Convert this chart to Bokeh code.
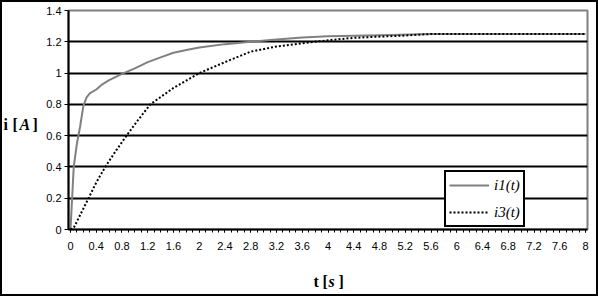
from bokeh.plotting import figure
from bokeh.models import (FixedTicker, Legend, LegendItem, Label, Range1d)
from bokeh.layouts import column, row
from bokeh.embed import file_html
from bokeh.resources import INLINE

# ---- data ----
t1 = [0, 0.05, 0.1, 0.15, 0.2, 0.25, 0.3, 0.4, 0.5, 0.6, 0.8, 1.0, 1.2, 1.4, 1.6, 1.8,
      2.0, 2.4, 2.8, 3.2, 3.6, 4.0, 4.8, 5.6, 6.4, 7.2, 8.0]
i1 = [0, 0.40, 0.55, 0.66, 0.79, 0.845, 0.87, 0.895, 0.93, 0.955, 0.995, 1.03, 1.07,
      1.10, 1.13, 1.148, 1.163, 1.185, 1.2, 1.215, 1.228, 1.235, 1.242, 1.25, 1.25,
      1.25, 1.25]

t3 = [0, 0.05, 0.28, 0.4, 0.54, 0.7, 0.87, 1.05, 1.24, 1.6, 2.0, 2.4, 2.8, 3.2, 3.6,
      4.0, 4.4, 4.8, 5.2, 5.6, 6.4, 7.2, 8.0]
i3 = [0, 0.01, 0.2, 0.3, 0.4, 0.5, 0.6, 0.7, 0.8, 0.905, 1.0, 1.07, 1.137, 1.17, 1.19,
      1.21, 1.225, 1.233, 1.24, 1.25, 1.25, 1.25, 1.25]

x_ticks = [round(0.4 * k, 1) for k in range(21)]
x_minor = [round(0.1 * k, 1) for k in range(81)]
x_labels = ["0", "0.4", "0.8", "1.2", "1.6", "2", "2.4", "2.8", "3.2", "3.6", "4",
            "4.4", "4.8", "5.2", "5.6", "6", "6.4", "6.8", "7.2", "7.6", "8"]
y_ticks = [0, 0.2, 0.4, 0.6, 0.8, 1.0, 1.2, 1.4]
y_labels = ["0", "0.2", "0.4", "0.6", "0.8", "1", "1.2", "1.4"]
series_names = ["i1(t)", "i3(t)"]
y_title = [("i", "bold"), ("[", "bold"), ("A", "bold italic"), ("]", "bold")]
x_title = [("t", "bold"), ("[", "bold"), ("s", "bold italic"), ("]", "bold")]

B = 2                    # outer border width
IW, IH = 598 - 2 * B, 296 - 2 * B
LW = 40                  # left title strip
BH = 36                  # bottom title strip
MW, MH = IW - LW, IH - BH

# ---- main chart ----
p = figure(width=MW, height=MH, output_backend="svg", toolbar_location=None,
           x_range=Range1d(-0.031, 8.031), y_range=Range1d(0, 1.4),
           min_border_left=68 - B - LW, min_border_right=IW + B - 587,
           min_border_top=10 - B, min_border_bottom=MH + B - 229)
p.background_fill_color = "white"
p.border_fill_color = "white"
p.outline_line_color = "#808080"
p.outline_line_width = 2

r1 = p.line(t1, i1, line_color="#808080", line_width=2)
r3 = p.line(t3, i3, line_color="black", line_width=2, line_dash="2 2")

p.xaxis.ticker = FixedTicker(ticks=x_ticks, minor_ticks=x_minor)
p.xaxis.major_label_overrides = {v: s for v, s in zip(x_ticks, x_labels)}
p.yaxis.ticker = FixedTicker(ticks=y_ticks, minor_ticks=[])
p.yaxis.major_label_overrides = {v: s for v, s in zip(y_ticks, y_labels)}
for ax in (p.xaxis[0], p.yaxis[0]):
    ax.axis_line_color = "black"
    ax.axis_line_width = 2
    ax.major_tick_line_color = "black"
    ax.major_tick_line_width = 1
    ax.minor_tick_line_color = "black"
    ax.major_tick_in = 0
    ax.minor_tick_in = 0
    ax.major_label_text_font = "Liberation Sans"
    ax.major_label_text_font_size = "11px"
    ax.major_label_text_color = "black"
p.xaxis.major_tick_out = 3
p.xaxis.minor_tick_out = 3
p.xaxis.major_label_standoff = 9
p.yaxis.major_tick_out = 4
p.yaxis.minor_tick_out = 0
p.yaxis.major_label_standoff = 3

p.xgrid.visible = False
p.ygrid.ticker = FixedTicker(ticks=[0.2, 0.4, 0.6, 0.8, 1.0, 1.2])
p.ygrid.grid_line_color = "black"
p.ygrid.grid_line_width = 2

legend = Legend(items=[LegendItem(label=series_names[0], renderers=[r1]),
                       LegendItem(label=series_names[1], renderers=[r3])],
                location=(376, 2))
legend.label_text_font = "Liberation Serif"
legend.label_text_font_style = "italic"
legend.label_text_font_size = "15px"
legend.label_text_color = "black"
legend.border_line_color = "black"
legend.border_line_alpha = 1
legend.border_line_width = 2
legend.background_fill_color = "white"
legend.background_fill_alpha = 1
legend.glyph_width = 40
legend.glyph_height = 20
legend.label_standoff = 5
legend.padding = 3
legend.spacing = 7
legend.margin = 0
p.add_layout(legend, "center")


def strip(w, h):
    f = figure(width=w, height=h, output_backend="svg", toolbar_location=None,
               x_axis_location=None, y_axis_location=None,
               min_border=0, min_border_left=0, min_border_right=0,
               min_border_top=0, min_border_bottom=0)
    f.outline_line_color = None
    f.xgrid.visible = False
    f.ygrid.visible = False
    f.background_fill_color = "white"
    f.border_fill_color = "white"
    return f


def put_title(f, parts, xs, baseline):
    for (txt, style), x in zip(parts, xs):
        f.add_layout(Label(x=x, y=baseline, x_units="canvas", y_units="canvas",
                           text=txt, text_font="Liberation Serif",
                           text_font_style=style, text_font_size="16px",
                           text_color="black", text_baseline="alphabetic"))


left = strip(LW, MH)
put_title(left, y_title, [3 - B, 12 - B, 19 - B, 32 - B], 124 - B)

bottom = strip(IW, BH)
put_title(bottom, x_title, [313 - B, 322 - B, 328 - B, 338 - B], 281 - B - MH)

layout = column(row(left, p), bottom)
layout.styles = {"border": "2px solid black"}

open("out.html", "w").write(file_html(layout, INLINE))
